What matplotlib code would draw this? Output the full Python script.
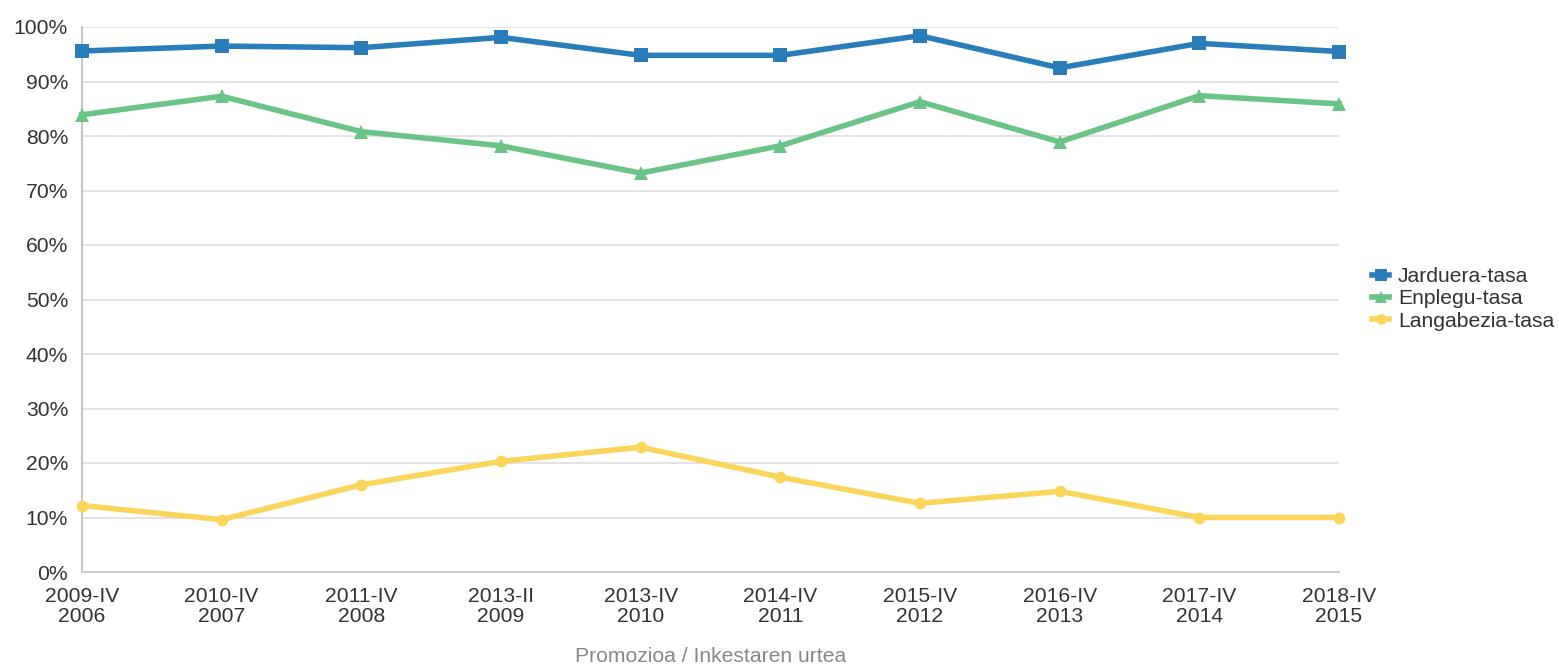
import matplotlib
matplotlib.use('Agg')
import matplotlib.pyplot as plt
from matplotlib.ticker import FuncFormatter

plt.rcParams['font.family'] = ['Liberation Sans', 'DejaVu Sans']

# data
promozioa = ['2009-IV', '2010-IV', '2011-IV', '2013-II', '2013-IV',
             '2014-IV', '2015-IV', '2016-IV', '2017-IV', '2018-IV']
urtea = ['2006', '2007', '2008', '2009', '2010',
         '2011', '2012', '2013', '2014', '2015']
jarduera = [95.6, 96.5, 96.2, 98.1, 94.8, 94.8, 98.4, 92.5, 97.0, 95.5]
enplegu = [83.9, 87.3, 80.8, 78.2, 73.2, 78.2, 86.3, 78.9, 87.4, 85.9]
langabezia = [12.2, 9.6, 16.0, 20.3, 22.9, 17.4, 12.6, 14.8, 10.0, 10.0]

series = [
    ('Jarduera-tasa', jarduera, '#2a7db8', 's', 9.5),
    ('Enplegu-tasa', enplegu, '#6cc387', '^', 10),
    ('Langabezia-tasa', langabezia, '#f9d55c', 'o', 8.5),
]

text_color = '#333333'
grid_color = '#e0e0e0'
fs = 15.2

fig = plt.figure(figsize=(15.59, 6.65), dpi=100, facecolor='white')
ax = fig.add_axes([82/1559, 1 - 572/665, (1339 - 82)/1559, (572 - 27)/665])

x = list(range(len(promozioa)))
handles = []
for name, vals, col, mk, ms in series:
    h, = ax.plot(x, vals, color=col, lw=4, marker=mk, markersize=ms,
                 markeredgewidth=0, label=name, clip_on=False, zorder=3)
    handles.append(h)

ax.set_xlim(0, len(promozioa) - 1)
ax.set_ylim(0, 100)
ax.set_yticks(range(0, 101, 10))
ax.yaxis.set_major_formatter(FuncFormatter(lambda v, p: '%d%%' % v))
ax.set_xticks(x)
ax.set_xticklabels([p + '\n' + u for p, u in zip(promozioa, urtea)],
                   linespacing=1.05)

ax.grid(axis='y', color=grid_color, lw=1.3, zorder=0)
ax.set_axisbelow(True)
ax.tick_params(axis='both', length=0, labelsize=fs, labelcolor=text_color)
ax.tick_params(axis='y', pad=10)
ax.tick_params(axis='x', pad=11)

for s in ['top', 'right']:
    ax.spines[s].set_visible(False)
ax.spines['left'].set_color('#bbbbbb')
ax.spines['bottom'].set_color('#cccccc')
ax.spines['left'].set_linewidth(1.2)
ax.spines['bottom'].set_linewidth(1.5)

# axis title sits near the bottom edge, centred under the plot
fig.text((82 + 1339) / 2 / 1559, 1 - 657/665, 'Promozioa / Inkestaren urtea',
         color='#888888', fontsize=fs, ha='center', va='center')

fig.legend(handles=handles, loc='center left',
           bbox_to_anchor=(1364/1559, 1 - 299/665), frameon=False,
           fontsize=fs, handlelength=0.8, handletextpad=0.4,
           labelspacing=0.15, borderaxespad=0, labelcolor=text_color,
           markerscale=0.9)

fig.savefig('out.png', dpi=100, facecolor='white')
